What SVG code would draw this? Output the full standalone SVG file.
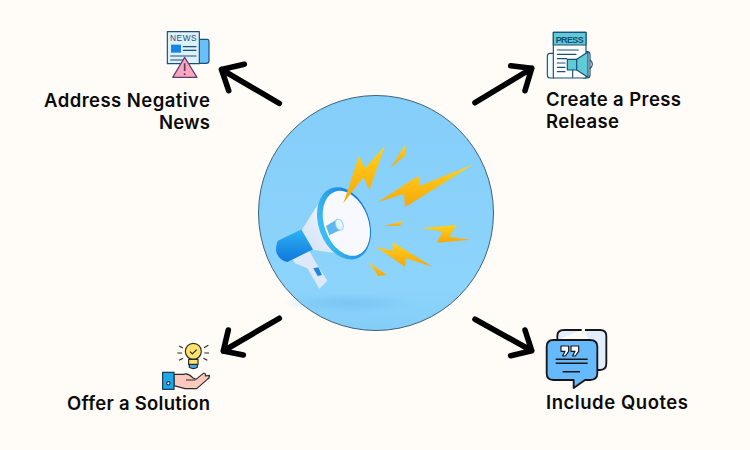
<svg xmlns="http://www.w3.org/2000/svg" width="750" height="450" viewBox="0 0 750 450">
<style>
.l{font-family:"Inter","Liberation Sans",sans-serif;font-size:18.500px;font-weight:600;fill:#0b0b0b}
.a{fill:none;stroke:#000;stroke-width:5.600;stroke-linecap:round;stroke-linejoin:round}
.i{stroke:#1d4f78;stroke-width:3.500;stroke-linejoin:round;stroke-linecap:round}
.n{fill:none}
.b{fill:url(#bolt)}
</style>
<defs>
<linearGradient id="bolt" x1="0" y1="0" x2="0" y2="1"><stop offset="0" stop-color="#ffd21c"/><stop offset="1" stop-color="#f6a60c"/></linearGradient>
<linearGradient id="sky" x1="0" y1="0" x2="0" y2="1"><stop offset="0" stop-color="#84cefa"/><stop offset="0.8" stop-color="#8dd4fb"/><stop offset="1" stop-color="#83cef8"/></linearGradient>
<linearGradient id="cone" x1="0" y1="1" x2="1" y2="0"><stop offset="0" stop-color="#cfe0f5"/><stop offset="1" stop-color="#ffffff"/></linearGradient>
<linearGradient id="tube" x1="0" y1="0" x2="0" y2="1"><stop offset="0" stop-color="#2fb2f2"/><stop offset="1" stop-color="#0f78dc"/></linearGradient>
<linearGradient id="rim" x1="0" y1="0" x2="1" y2="0"><stop offset="0" stop-color="#3dc0f3"/><stop offset="1" stop-color="#0f73dc"/></linearGradient>
<radialGradient id="shadow"><stop offset="0" stop-color="#6fbdee" stop-opacity=".6"/><stop offset="1" stop-color="#6fbdee" stop-opacity="0"/></radialGradient>
</defs>
<rect width="750" height="450" fill="#fffcf8"/>
<g id="center">
<circle cx="376" cy="213" r="117.500" fill="url(#sky)" stroke="#3f6278" stroke-width="1"/>
<g transform="translate(250 90) scale(.33333)">
<ellipse cx="300" cy="640" rx="200" ry="30" fill="url(#shadow)"/>
<path d="M122 497L175 478L198 518L232 572L208 596L172 535L135 520Z" fill="#dde9f8"/>
<path d="M190 535L205 532L216 555L203 558Z" fill="#1f86dd"/>
<path d="M84 452L155 418L190 478L112 516Q84 510 78 482Q78 462 84 452Z" fill="url(#tube)"/>
<path d="M155 420L222 315L300 495L190 480Z" fill="url(#cone)"/>
<ellipse cx="282" cy="400" rx="76" ry="112" transform="rotate(-20 282 400)" fill="url(#rim)"/>
<ellipse cx="289" cy="400" rx="66" ry="101" transform="rotate(-20 289 400)" fill="#f7f9fe"/>
<path d="M228 408L262 388L275 418L238 436Z" fill="#5db8ee"/>
<ellipse cx="268" cy="404" rx="11" ry="17" transform="rotate(-20 268 404)" fill="#e3f4fd" stroke="#8ecdf3" stroke-width="3"/>
<path class="b" d="M280 340L327 197L345 235L405 167L358 300L340 262Z"/>
<path class="b" d="M422 233L465 165L467 195Z"/>
<path class="b" d="M383 337L505 257L510 287L672 222L465 352L462 312Z"/>
<path class="b" d="M402 408L460 393L450 407Z"/>
<path class="b" d="M516 414L620 405L598 440L663 449L560 458L578 425Z"/>
<path class="b" d="M377 470L428 482L428 457L548 530L468 505L465 530Z"/>
<path class="b" d="M355 515L410 555L385 558Z"/>
</g>
</g>
<g id="connectors">
<path class="a" d="M279.300 103.300L221.500 69.500M244.300 64.300L221.500 69.500L228.700 90.700"/>
<path class="a" d="M475 102.700L531.700 68.300M510.700 65.700L531.700 68.300L525 90.700"/>
<path class="a" d="M279.300 318.300L223.300 351M228.300 330L223.300 351L243.300 355"/>
<path class="a" d="M475 319.300L531.700 350.700M525 330L531.700 350.700L510.700 355.700"/>
</g>
<g id="address-negative-news">
<g transform="translate(150 20) scale(.33333)">
<path class="i" d="M140 58H172Q177 58 177 64V122Q177 130 168 130H150Q146 130 140 122Z" fill="#67c0f8" stroke-width="2.500"/>
<rect class="i" x="52" y="35" width="96" height="96" fill="#ddf1fc"/>
<path class="n i" d="M100 80H138M100 91H138M62 108H138M62 120H100"/>
<rect x="63" y="74" width="30" height="24" fill="#1784ea"/>
<text x="100" y="64" text-anchor="middle" font-family="Liberation Sans,sans-serif" font-size="25" textLength="80" fill="#1d4f78">NEWS</text>
<path d="M104 112L141 172H68Z" fill="#fba6bd" stroke="#5a3e6d" stroke-width="3.500" stroke-linejoin="round"/>
<path d="M104 130V153M104 160V165" stroke="#5a3e6d" stroke-width="5" fill="none"/>
</g>
<text class="l" x="44" y="107" textLength="166">Address Negative</text>
<text class="l" x="159" y="129" textLength="51">News</text>
</g>
<g id="create-press-release">
<g transform="translate(470 20) scale(.33333)">
<path class="i" d="M250 100H240Q232 100 232 110V165Q232 174 240 174H250M340 95H352Q360 95 360 105V165Q360 174 352 174H340" fill="#f2fafc"/>
<path class="i" d="M360 120Q374 132 360 146" fill="none"/>
<rect class="i" x="250" y="37" width="98" height="137" fill="#fff"/>
<rect class="i" x="250" y="37" width="98" height="38" fill="#5fcbd6"/>
<text x="299" y="69" text-anchor="middle" font-family="Liberation Sans,sans-serif" font-weight="700" font-size="27" textLength="84" fill="#174a73">PRESS</text>
<path class="n i" d="M262 90H325M262 103H318M262 116H290M262 129H285M262 142H285M262 155H285"/>
<path class="i" d="M292 118H320L354 96V172L320 150H292Z" fill="#5fcbd6"/>
<path class="i n" d="M320 118V150M308 150V172"/>
</g>
<text class="l" x="546" y="106" textLength="135">Create a Press</text>
<text class="l" x="546" y="128" textLength="73">Release</text>
</g>
<g id="offer-solution">
<g transform="translate(150 310) scale(.33333)">
<circle cx="130" cy="124" r="24" fill="#fde36c" stroke="#2b2b2b" stroke-width="3.500"/>
<path d="M116 148H144V164H116Z" fill="#fde36c" stroke="#2b2b2b" stroke-width="3.500"/>
<path d="M118 163H142V172Q130 180 118 172Z" fill="#4aa8e8" stroke="#2b2b2b" stroke-width="3.500"/>
<path d="M120 125L127 132L140 119" fill="none" stroke="#2b2b2b" stroke-width="3.500"/>
<path d="M82 129H96M163 129H177M87 108L99 114M175 106L162 113M87 151L99 145M172 151L160 145" stroke="#2b2b2b" stroke-width="3.500" fill="none"/>
<path d="M72 193H100Q114 188 128 203L138 208L160 190Q168 188 166 198L178 196Q180 203 172 208L140 236H105L72 227Z" fill="#fbc9bd" stroke="#2b2b2b" stroke-width="3.500" stroke-linejoin="round"/>
<path d="M108 210H136" stroke="#2b2b2b" stroke-width="3" fill="none"/>
<rect x="38" y="187" width="34" height="51" fill="#1fa8ea" stroke="#17324a" stroke-width="3.500"/>
<circle cx="55" cy="220" r="5" fill="#fff" stroke="#17324a" stroke-width="3.500"/>
</g>
<text class="l" x="67" y="410" textLength="143">Offer a Solution</text>
</g>
<g id="include-quotes">
<g transform="translate(470 310) scale(.33333)">
<path d="M262 90V78Q262 60 282 60H335M345 60H390Q409 60 409 78V160Q409 180 390 180H382" fill="#e2eefb" stroke="#161616" stroke-width="5.500"/>
<path d="M250 90H360Q382 90 382 110V190Q382 210 360 210H345L311 234V210H250Q230 210 230 190V110Q230 90 250 90Z" fill="#66bafc" stroke="#161616" stroke-width="5.500" stroke-linejoin="round"/>
<path d="M257 148H353M257 160H353M278 185H330" stroke="#161616" stroke-width="4.500" fill="none"/>
<path d="M273 108H296V124L286 138H278L285 124H273ZM303 108H326V124L316 138H308L315 124H303Z" fill="#fff" stroke="#161616" stroke-width="3.500" stroke-linejoin="round"/>
</g>
<text class="l" x="546" y="409" textLength="142">Include Quotes</text>
</g>
</svg>
